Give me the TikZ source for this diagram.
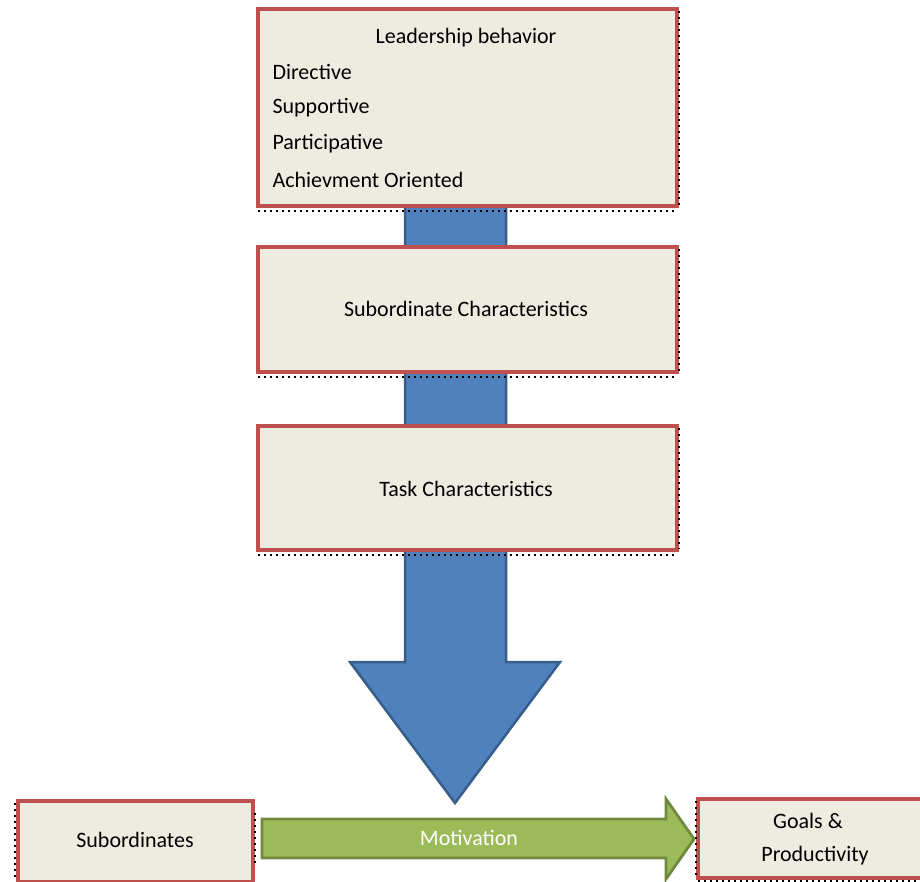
\documentclass[tikz,border=0pt]{standalone}
\usepackage{fontspec}
\setmainfont{Carlito}
\definecolor{boxfill}{HTML}{EEECE1}
\definecolor{boxred}{HTML}{C0504D}
\definecolor{blufill}{HTML}{4F81BD}
\definecolor{bluline}{HTML}{385D8A}
\definecolor{grnfill}{HTML}{9BBB59}
\definecolor{grnline}{HTML}{71893F}
\begin{document}
\begin{tikzpicture}[x=1pt,y=-1pt,
  box/.style={draw=boxred,fill=boxfill,line width=3.2pt,inner sep=0pt},
  dotline/.style={dash pattern=on 1.6pt off 4.4pt,line width=1.4pt,black},
  lbl/.style={font=\fontsize{22}{26}\selectfont,text=black}]
\useasboundingbox (0,0) rectangle (920,882);
% blue arrow (behind boxes)
\draw[fill=blufill,draw=bluline,line width=2.5pt,line join=miter]
  (405,150) -- (506,150) -- (506,662) -- (560,662) -- (455,803) -- (350,662) -- (405,662) -- cycle;
% boxes
\draw[box] (258,9) rectangle (677,206);
\node[lbl] (lead) at (466,38) {Leadership behavior};
\node[lbl,anchor=west] (d1) at (269,72) {Directive};
\node[lbl,anchor=west] (d2) at (269,108) {Supportive};
\node[lbl,anchor=west] (d3) at (269,144) {Participative};
\node[lbl,anchor=west] (d4) at (269,180) {Achievment Oriented};
\draw[box] (258,247) rectangle (677,372);
\node[lbl] (sub) at (466,309) {Subordinate Characteristics};
\draw[box] (258,426) rectangle (677,550);
\node[lbl] (task) at (466,489) {Task Characteristics};
\draw[box] (18,801) rectangle (253,882);
\node[lbl] (subs) at (135,840) {Subordinates};
\draw[box] (698,799) rectangle (925,878);
\node[lbl] (g1) at (808,821) {Goals \&};
\node[lbl] (g2) at (815,856) {Productivity};
% green arrow
\draw[fill=grnfill,draw=grnline,line width=2.8pt,line join=miter]
  (262,819) -- (666,819) -- (666,799) -- (694,839) -- (666,879) -- (666,858) -- (262,858) -- cycle;
\node[lbl,text=white] (mot) at (469,838) {Motivation};
% dotted selection marks
\draw[dotline] (258,211) -- (676,211);
\draw[dotline] (679,11) -- (679,205);
\draw[dotline] (258,377) -- (676,377);
\draw[dotline] (679,249) -- (679,371);
\draw[dotline] (258,555) -- (676,555);
\draw[dotline] (679,428) -- (679,549);
\draw[dotline] (15,803) -- (15,880);
\draw[dotline] (255,813) -- (255,866);
\draw[dotline] (696,801) -- (696,877);
\draw[dotline] (698,881) -- (920,881);
\end{tikzpicture}
\end{document}
